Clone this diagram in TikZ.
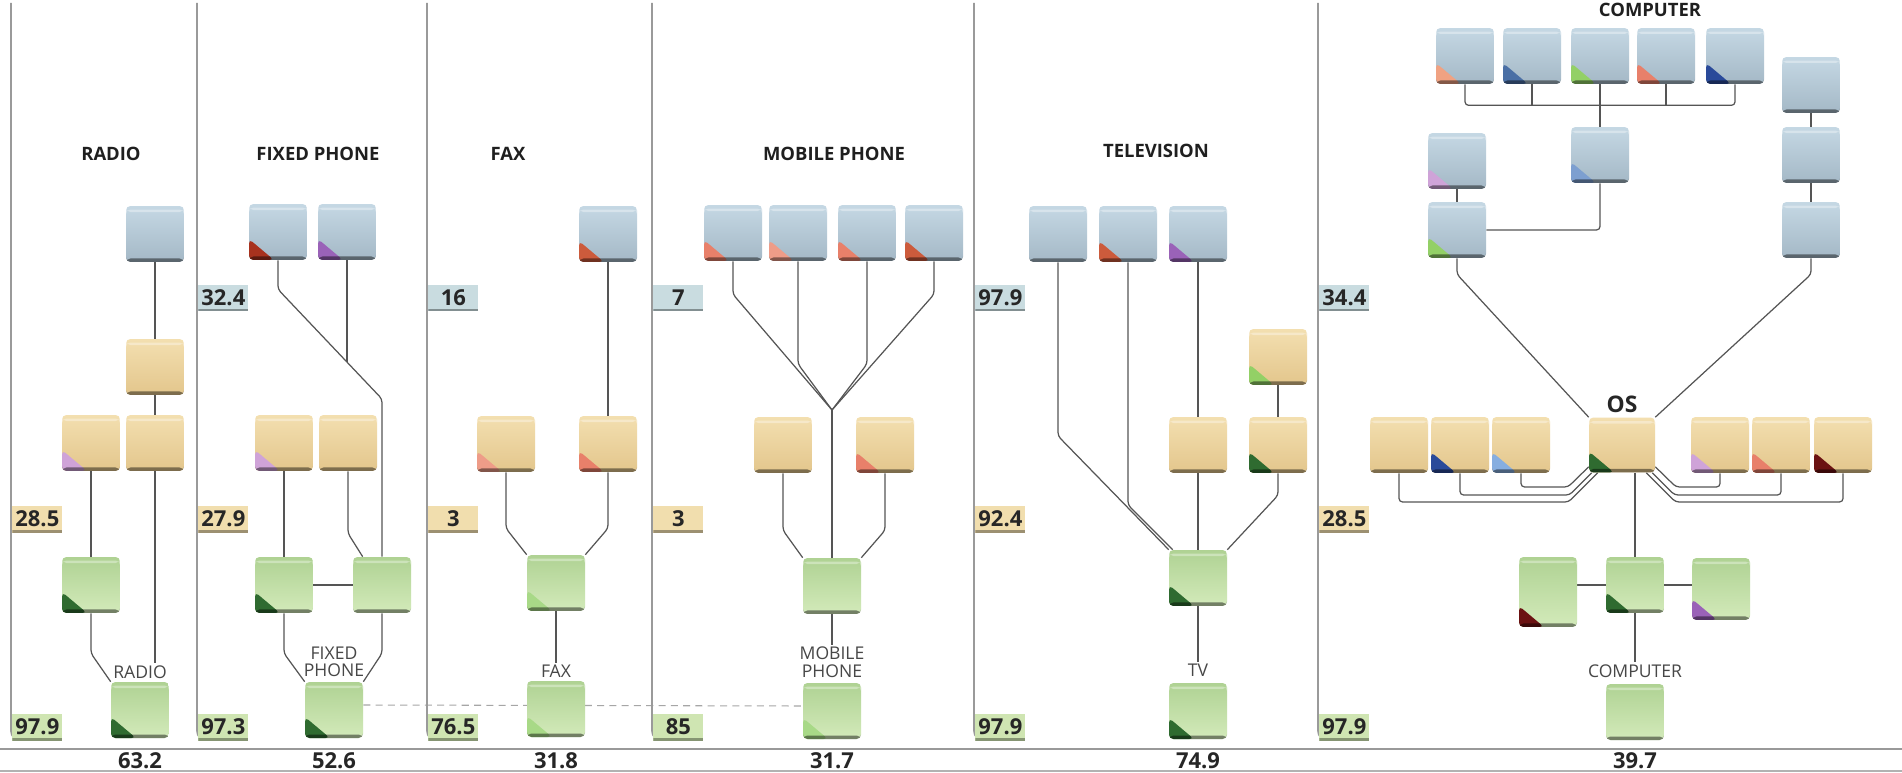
\documentclass[tikz,border=0pt]{standalone}
\usepackage{fontspec}
\setmainfont{Open Sans}
\usetikzlibrary{calc}
\pgfdeclarelayer{bg}
\pgfdeclarelayer{paper}
\pgfsetlayers{paper,bg,main}
\definecolor{cbT}{HTML}{C5D8E4}
\definecolor{cbB}{HTML}{A4B8C6}
\definecolor{ctT}{HTML}{F3DFB0}
\definecolor{ctB}{HTML}{E3C68C}
\definecolor{cgT}{HTML}{AFD293}
\definecolor{cgB}{HTML}{D3EABA}
\definecolor{tabBlue}{HTML}{C9DCE0}
\definecolor{tabTan}{HTML}{F1DEAE}
\definecolor{tabGreen}{HTML}{CFE5B2}
\definecolor{connC}{HTML}{555555}
\definecolor{divC}{HTML}{9A9A9A}
\definecolor{dred}{HTML}{A8321E}
\definecolor{purp}{HTML}{9A62B8}
\definecolor{lav}{HTML}{CFA3D8}
\definecolor{dgreen}{HTML}{2F6B30}
\definecolor{lgreen}{HTML}{93D066}
\definecolor{fgreen}{HTML}{A8D987}
\definecolor{salm}{HTML}{E8806A}
\definecolor{salmL}{HTML}{EE9C88}
\definecolor{salmD}{HTML}{CC5B3C}
\definecolor{peach}{HTML}{F0A282}
\definecolor{steel}{HTML}{4A6FA5}
\definecolor{lsteel}{HTML}{7D9FD0}
\definecolor{dblue}{HTML}{2A4A9A}
\definecolor{lblue}{HTML}{86AEE0}
\definecolor{maroon}{HTML}{6B1212}
\begin{document}
\begin{tikzpicture}[x=0.02cm,y=-0.02cm,
  card/.style={rounded corners=2.5pt, minimum width=1.16cm, minimum height=1.12cm, inner sep=0pt, draw=none},
  bluecard/.style={card, top color=cbT, bottom color=cbB},
  tancard/.style={card, top color=ctT, bottom color=ctB},
  greencard/.style={card, top color=cgT, bottom color=cgB},
  crn/.style={path picture={
    \fill[fill=#1] (path picture bounding box.south west) -- ++(0.5cm,0) -- ++(-0.5cm,0.42cm) -- cycle;
    \fill[black, opacity=0.45] (path picture bounding box.south west) rectangle ([yshift=0.07cm]path picture bounding box.south east);
    \fill[white, opacity=0.35] ([yshift=-0.07cm]path picture bounding box.north west) rectangle ([yshift=-0.12cm]path picture bounding box.north east);
  }},
  tabbox/.style={anchor=west, minimum width=1cm, minimum height=0.54cm, inner sep=0pt,
    font=\bfseries\fontsize{12.5}{12.5}\selectfont, text=black!85,
    path picture={\fill[black,opacity=0.35] (path picture bounding box.south west) rectangle ([yshift=0.05cm]path picture bounding box.south east);}},
  tabB/.style={tabbox, fill=tabBlue},
  tabT/.style={tabbox, fill=tabTan},
  tabG/.style={tabbox, fill=tabGreen},
  divider/.style={draw=divC, line width=0.9pt, rounded corners=5pt},
  conn/.style={draw=connC, line width=0.7pt, rounded corners=2pt},
  dashline/.style={draw=black!35, line width=0.6pt, dash pattern=on 4pt off 3pt},
  ttl/.style={font=\bfseries\fontsize{10.5}{12}\selectfont, text=black!88},
  lbl/.style={font=\fontsize{10}{10}\selectfont, text=black!72, align=center, inner sep=1pt},
  num/.style={font=\bfseries\fontsize{12.5}{12.5}\selectfont, text=black!85},
  ostxt/.style={font=\bfseries\fontsize{13}{13}\selectfont, text=black!85}
]
\useasboundingbox (0,0) rectangle (1902,773);
\begin{pgfonlayer}{paper}
\fill[white] (0,0) rectangle (1902,773);
\end{pgfonlayer}

% bottom rules
\draw[draw=black!40, line width=1.2pt] (0,749) -- (1902,749);
\draw[draw=black!30, line width=0.8pt] (0,771) -- (1902,771);

% dividers
\foreach \xd in {11,197,427,652,974,1318}{
  \draw[divider] (\xd,3) -- (\xd,740) -- (\xd+30,740);
}

% tabs
\node[tabT] (tr2) at (12,519) {28.5};
\node[tabG] (tr3) at (12,727) {97.9};
\node[tabB] (tf1) at (198,298) {32.4};
\node[tabT] (tf2) at (198,519) {27.9};
\node[tabG] (tf3) at (198,727) {97.3};
\node[tabB] (tx1) at (428,298) {16};
\node[tabT] (tx2) at (428,519) {3};
\node[tabG] (tx3) at (428,727) {76.5};
\node[tabB] (tm1) at (653,298) {7};
\node[tabT] (tm2) at (653,519) {3};
\node[tabG] (tm3) at (653,727) {85};
\node[tabB] (tt1) at (975,298) {97.9};
\node[tabT] (tt2) at (975,519) {92.4};
\node[tabG] (tt3) at (975,727) {97.9};
\node[tabB] (tc1) at (1319,298) {34.4};
\node[tabT] (tc2) at (1319,519) {28.5};
\node[tabG] (tc3) at (1319,727) {97.9};

% titles
\node[ttl] (hr) at (111,154) {RADIO};
\node[ttl] (hf) at (318,154) {FIXED PHONE};
\node[ttl] (hx) at (508,154) {FAX};
\node[ttl] (hm) at (834,154) {MOBILE PHONE};
\node[ttl] (ht) at (1156,151) {TELEVISION};
\node[ttl] (hc) at (1650,10) {COMPUTER};

% bottom numbers
\node[num] (br) at (140,761) {63.2};
\node[num] (bf) at (334,761) {52.6};
\node[num] (bx) at (556,761) {31.8};
\node[num] (bm) at (832,761) {31.7};
\node[num] (bt) at (1198,761) {74.9};
\node[num] (bc) at (1635,761) {39.7};

% ---------- RADIO ----------
\node[bluecard, crn=none] (r1) at (155,234) {};
\node[tancard, crn=none] (r2) at (155,367) {};
\node[tancard, crn=lav] (r3) at (91,443) {};
\node[tancard, crn=none] (r4) at (155,443) {};
\node[greencard, crn=dgreen] (r5) at (91,585) {};
\node[greencard, crn=dgreen] (rF) at (140,710) {};
\node[lbl] (rL) at (140,672) {RADIO};

% ---------- FIXED PHONE ----------
\node[bluecard, crn=dred] (f1) at (278,232) {};
\node[bluecard, crn=purp] (f2) at (347,232) {};
\node[tancard, crn=lav] (f3) at (284,443) {};
\node[tancard, crn=none] (f4) at (348,443) {};
\node[greencard, crn=dgreen] (f5) at (284,585) {};
\node[greencard, crn=none] (f6) at (382,585) {};
\node[greencard, crn=dgreen] (fF) at (334,710) {};
\node[lbl] (fL) at (334,662) {FIXED\\PHONE};
\coordinate (fj) at (382,399);
\coordinate (fm) at (347,362);

% ---------- FAX ----------
\node[bluecard, crn=salmD] (x1) at (608,234) {};
\node[tancard, crn=salmL] (x2) at (506,444) {};
\node[tancard, crn=salm] (x3) at (608,444) {};
\node[greencard, crn=fgreen] (x4) at (556,583) {};
\node[greencard, crn=fgreen] (xF) at (556,709) {};
\node[lbl] (xL) at (556,671) {FAX};

% ---------- MOBILE PHONE ----------
\node[bluecard, crn=salm] (m1) at (733,233) {};
\node[bluecard, crn=salmL] (m2) at (798,233) {};
\node[bluecard, crn=salm] (m3) at (867,233) {};
\node[bluecard, crn=salmD] (m4) at (934,233) {};
\node[tancard, crn=none] (m5) at (783,445) {};
\node[tancard, crn=salm] (m6) at (885,445) {};
\node[greencard, crn=none] (m7) at (832,586) {};
\node[greencard, crn=fgreen] (mF) at (832,711) {};
\node[lbl] (mL) at (832,662) {MOBILE\\PHONE};
\coordinate (mj) at (832,410);

% ---------- TELEVISION ----------
\node[bluecard, crn=none] (t1) at (1058,234) {};
\node[bluecard, crn=salmD] (t2) at (1128,234) {};
\node[bluecard, crn=purp] (t3) at (1198,234) {};
\node[tancard, crn=lgreen] (t4) at (1278,357) {};
\node[tancard, crn=none] (t5) at (1198,445) {};
\node[tancard, crn=dgreen] (t6) at (1278,445) {};
\node[greencard, crn=dgreen] (t7) at (1198,578) {};
\node[greencard, crn=dgreen] (tF) at (1198,711) {};
\node[lbl] (tL) at (1198,670) {TV};

% ---------- COMPUTER ----------
\node[bluecard, crn=peach] (c1) at (1465,56) {};
\node[bluecard, crn=steel] (c2) at (1532,56) {};
\node[bluecard, crn=lgreen] (c3) at (1600,56) {};
\node[bluecard, crn=salm] (c4) at (1666,56) {};
\node[bluecard, crn=dblue] (c5) at (1735,56) {};
\coordinate (cbus) at (1600,105);
\node[bluecard, crn=lsteel] (cw) at (1600,155) {};
\node[bluecard, crn=lav] (ci) at (1457,161) {};
\node[bluecard, crn=lgreen] (ccol) at (1457,230) {};
\node[bluecard, crn=none] (cr1) at (1811,85) {};
\node[bluecard, crn=none] (cr2) at (1811,155) {};
\node[bluecard, crn=none] (cr3) at (1811,230) {};
\node[tancard, crn=dgreen, minimum width=1.32cm, minimum height=1.1cm] (cOS) at (1622,445) {};
\node[ostxt] (cOSl) at (1622,404) {OS};
\node[tancard, crn=none] (cA) at (1399,445) {};
\node[tancard, crn=dblue] (cB) at (1460,445) {};
\node[tancard, crn=lblue] (cC) at (1521,445) {};
\node[tancard, crn=lav] (cD) at (1720,445) {};
\node[tancard, crn=salm] (cE) at (1781,445) {};
\node[tancard, crn=maroon] (cF) at (1843,445) {};
\node[greencard, crn=dgreen] (cG) at (1635,585) {};
\node[greencard, crn=maroon, minimum height=1.4cm] (cM) at (1548,592) {};
\node[greencard, crn=purp, minimum height=1.24cm] (cH) at (1721,589) {};
\node[greencard, crn=none] (cFin) at (1635,712) {};
\node[lbl] (cL) at (1635,671) {COMPUTER};

% ---------- connectors ----------
\begin{pgfonlayer}{bg}
\draw[dashline] ([yshift=0.1cm]fF.east) -- ([yshift=0.1cm]mF.west);
% radio
\draw[conn] (r1) -- (r2);
\draw[conn] (r2) -- (r4);
\draw[conn] (r4.south) -- (r4.south |- rL.north);
\draw[conn] (r3) -- (r5);
\draw[conn] (r5.south) -- ++(0,40) -- (rF.north west);
% fixed phone
\draw[conn] (f1.south) -- ++(0,29) -- (fj) -- (f6.north);
\draw[conn] (f2.south) -- (fm);
\draw[conn] (f3) -- (f5);
\draw[conn] (f4.south) -- ++(0,62) -- ($(f6.north west)+(10,0)$);
\draw[conn] (f5) -- (f6);
\draw[conn] (f5.south) -- ++(0,40) -- (fF.north west);
\draw[conn] (f6.south) -- ++(0,40) -- (fF.north east);
% fax
\draw[conn] (x1) -- (x3);
\draw[conn] (x2.south) -- ++(0,56) -- (x4.north west);
\draw[conn] (x3.south) -- ++(0,56) -- (x4.north east);
\draw[conn] (x4) -- (xL);
% mobile
\draw[conn] (m1.south) -- ++(0,33) -- (mj);
\draw[conn] (m2.south) -- (798,364) -- (mj);
\draw[conn] (m3.south) -- (867,364) -- (mj);
\draw[conn] (m4.south) -- ++(0,33) -- (mj);
\draw[conn] (mj) -- (m7.north);
\draw[conn] (m5.south) -- ++(0,57) -- (m7.north west);
\draw[conn] (m6.south) -- ++(0,57) -- (m7.north east);
\draw[conn] (m7) -- (mL);
% tv
\draw[conn] (t1.south) -- (1058,436) -- (t7.north west);
\draw[conn] (t2.south) -- (1128,505) -- ($(t7.north west)+(4,0)$);
\draw[conn] (t3) -- (t5);
\draw[conn] (t5) -- (t7);
\draw[conn] (t4) -- (t6);
\draw[conn] (t6.south) -- ++(0,22) -- (t7.north east);
\draw[conn] (t7) -- (tL);
% computer
\draw[conn] (c1.south) -- ++(0,21) -| (c5.south);
\draw[conn] (c2.south) -- (c2.south |- cbus);
\draw[conn] (c4.south) -- (c4.south |- cbus);
\draw[conn] (c3) -- (cw);
\draw[conn] (ci) -- (ccol);
\draw[conn] (cw.south) |- (ccol.east);
\draw[conn] (cr1) -- (cr2);
\draw[conn] (cr2) -- (cr3);
\draw[conn] (ccol.south) -- ++(0,16) -- (cOS.north west);
\draw[conn] (cr3.south) -- ++(0,16) -- (cOS.north east);
\draw[conn] (cA.south) |- (1568.5,502) -- ($(cOS.south west)+(9,0)$);
\draw[conn] (cB.south) |- (1569.5,495) -- ($(cOS.south west)+(3,0)$);
\draw[conn] (cC.south) |- (1568,487) -- ($(cOS.south west)+(0,-6)$);
\draw[conn] (cD.south) |- (1676,487) -- ($(cOS.south east)+(0,-6)$);
\draw[conn] (cE.south) |- (1674.5,495) -- ($(cOS.south east)+(-3,0)$);
\draw[conn] (cF.south) |- (1675.5,502) -- ($(cOS.south east)+(-9,0)$);
\draw[conn] (cOS.south -| cG.north) -- (cG.north);
\draw[conn] (cM.east |- cG.west) -- (cG.west);
\draw[conn] (cG.east) -- (cH.west |- cG.east);
\draw[conn] (cG) -- (cL);
\end{pgfonlayer}
\end{tikzpicture}
\end{document}
